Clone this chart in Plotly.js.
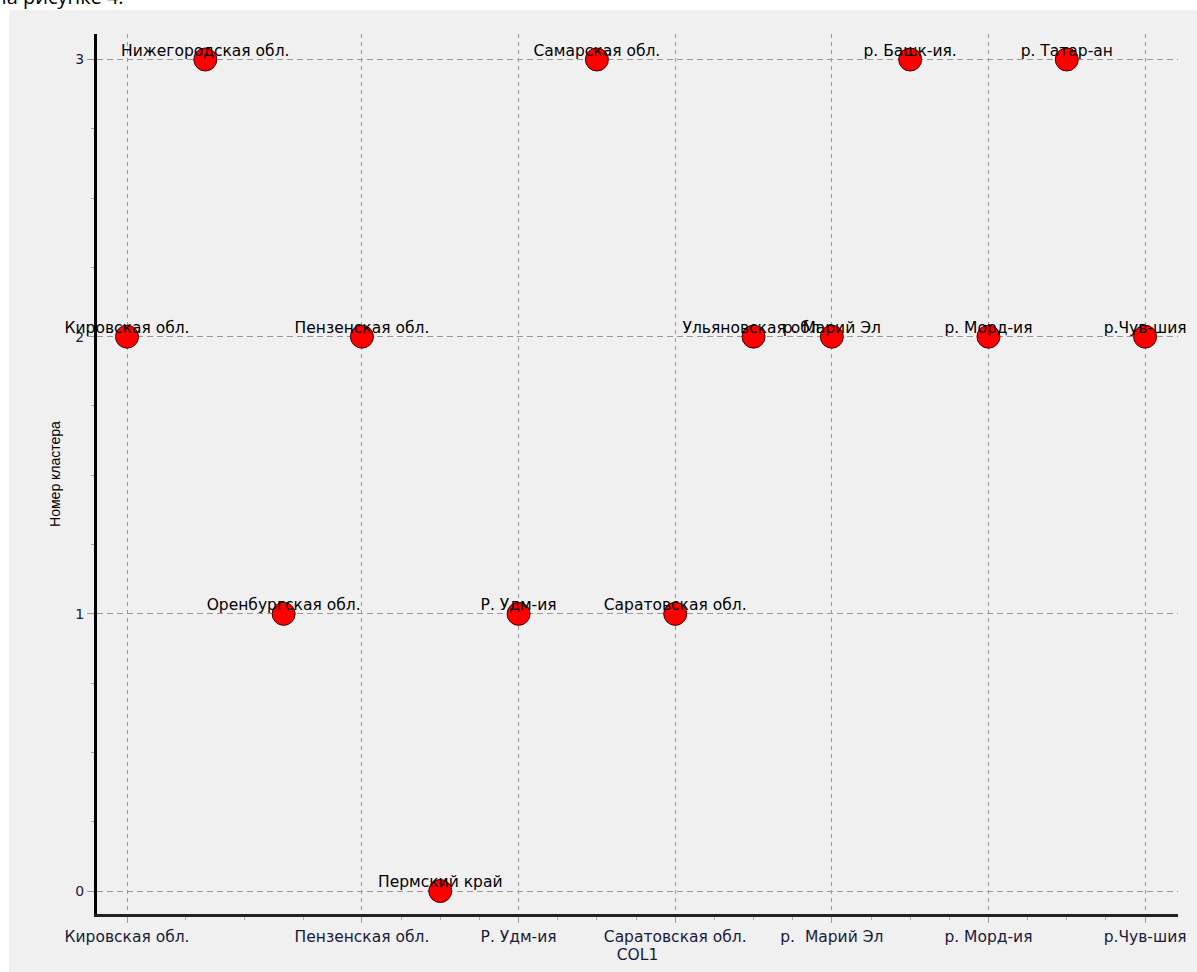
<!DOCTYPE html>
<html>
<head>
<meta charset="utf-8">
<script src="https://cdn.plot.ly/plotly-3.0.1.min.js"></script>
<style>
html,body{margin:0;padding:0;background:#fff;}
#chart{width:1197px;height:972px;}
</style>
</head>
<body>
<div id="chart"></div>
<script>
// Data
const regions = ['Кировская обл.','Нижегородская обл.','Оренбургская обл.','Пензенская обл.','Пермский край','Р. Удм-ия','Самарская обл.','Саратовская обл.','Ульяновская обл.','р. Марий Эл','р. Башк-ия.','р. Морд-ия','р. Татар-ан','р.Чув-шия'];
const cluster = [2,3,1,2,0,1,3,1,2,2,3,2,3,2];
const tickPositions = [0,3,5,7,9,11,13];
const tickLabels = ['Кировская обл.','Пензенская обл.','Р. Удм-ия','Саратовская обл.','р.  Марий Эл','р. Морд-ия','р.Чув-шия'];
const yTicks = [0,1,2,3];
const xMinor = [0.75,1.5,2.25,3.5,4,4.5,5.5,6,6.5,7.5,8,8.5,9.5,10,10.5,11.5,12,12.5];
const yMinor = [0.25,0.5,0.75,1.25,1.5,1.75,2.25,2.5,2.75];

const xIdx = regions.map((_, i) => i);

const W = 1197, H = 972;
const M = {l: 97, r: 19, t: 34, b: 58};
const pw = W - M.l - M.r, ph = H - M.t - M.b;
const px = p => (p - M.l) / pw;
const py = p => (H - M.b - p) / ph;

const FONT = 'DejaVu Sans, Verdana, sans-serif';

const markers = {
  type: 'scatter', mode: 'markers', x: xIdx, y: cluster,
  marker: {color: '#ff0000', size: 23, line: {color: '#3a0000', width: 1}},
  hoverinfo: 'skip', cliponaxis: false
};
const labels = {
  type: 'scatter', mode: 'text', x: xIdx, y: cluster, text: regions,
  textposition: 'top center',
  textfont: {family: FONT, size: 15.5, color: '#000'},
  hoverinfo: 'skip', cliponaxis: false
};

const layout = {
  width: W, height: H,
  margin: M,
  paper_bgcolor: '#ffffff',
  plot_bgcolor: '#f0f0f0',
  showlegend: false,
  shapes: [{
    type: 'rect', xref: 'paper', yref: 'paper', layer: 'below',
    x0: px(9), x1: px(1200), y0: py(975), y1: py(10),
    fillcolor: '#f0f0f0', line: {width: 0}
  }],
  annotations: [{
    xref: 'paper', yref: 'paper', x: px(126), y: py(12),
    xanchor: 'right', yanchor: 'bottom', showarrow: false,
    text: 'на рисунке 4.', font: {family: 'Open Sans, sans-serif', size: 20, color: '#000'}
  }],
  xaxis: {
    range: [-0.383, 13.42], zeroline: false,
    tickmode: 'array', tickvals: tickPositions, ticktext: tickLabels,
    tickfont: {family: FONT, size: 15.5, color: '#1a1a3a'},
    ticks: 'outside', ticklen: 6, tickcolor: '#999', tickwidth: 1,
    showgrid: true, gridcolor: '#9a9a9a', gridwidth: 1, griddash: '4px,4px',
    showline: true, linecolor: '#222', linewidth: 3,
    minor: {tickmode: 'array', tickvals: xMinor, ticks: 'outside', ticklen: 3, tickcolor: '#aaa', tickwidth: 1, showgrid: false},
    title: {text: 'COL1', standoff: 0, font: {family: FONT, size: 15.5, color: '#1a1a3a'}}
  },
  yaxis: {
    range: [-0.083, 3.092], zeroline: false,
    tickmode: 'array', tickvals: yTicks, ticktext: yTicks.map(String),
    tickfont: {family: FONT, size: 14, color: '#1a1a3a'},
    ticks: 'outside', ticklen: 7, tickcolor: '#999', tickwidth: 1,
    showgrid: true, gridcolor: '#9a9a9a', gridwidth: 1, griddash: '6px,4px',
    showline: true, linecolor: '#000', linewidth: 3,
    minor: {tickmode: 'array', tickvals: yMinor, ticks: 'outside', ticklen: 3, tickcolor: '#aaa', tickwidth: 1, showgrid: false},
    title: {text: 'Номер кластера', standoff: 12, font: {family: 'Liberation Sans Narrow, Liberation Sans, Arial, sans-serif', size: 14, color: '#000'}}
  }
};

Plotly.newPlot('chart', [markers, labels], layout, {displayModeBar: false, staticPlot: true});
</script>
</body>
</html>
